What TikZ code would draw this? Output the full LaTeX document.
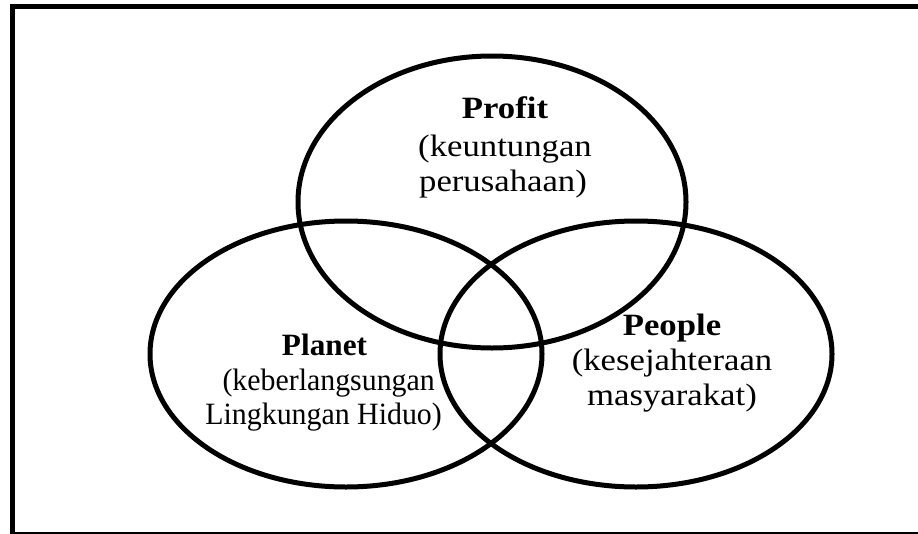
\documentclass[tikz,border=0pt]{standalone}
\usepackage{graphicx}
\usepackage{fontspec}
\usetikzlibrary{shapes.geometric}
\setmainfont{Liberation Serif}[FakeStretch=1.12]
\begin{document}
\begin{tikzpicture}[x=1pt,y=-1pt,
  ring/.style={draw, ellipse, line width=5pt, inner sep=0pt},
  lbl/.style={font=\fontsize{31}{36}\selectfont, anchor=base, inner sep=0pt},
  head/.style={lbl, font=\fontsize{31}{36}\selectfont\bfseries}]
\useasboundingbox (0,0) rectangle (918,533);
% outer frame, running past the right and bottom edges
\begin{scope}
  \clip (0,0) rectangle (918,533);
  \draw[line width=5pt] (12.5,6.5) rectangle (925,534.5);
\end{scope}
% the three circles
\node[ring, minimum width=388pt, minimum height=292pt] (profitring) at (492,202) {};
\node[ring, minimum width=392pt, minimum height=266pt] (planetring) at (346,354) {};
\node[ring, minimum width=392pt, minimum height=266pt] (peoplering) at (636,354) {};
% labels
\node[head] (profit) at (505,118) {Profit};
\node[lbl] (profit1) at (505,156) {(keuntungan};
\node[lbl] (profit2) at (503,191) {perusahaan)};
\node[head] (planet) at (324.5,355) {\scalebox{0.9}[1]{Planet}};
\node[lbl, anchor=base east] (planet1) at (435,390) {\scalebox{0.86}[1]{(keberlangsungan}};
\node[lbl, anchor=base east] (planet2) at (442,424) {\scalebox{0.86}[1]{Lingkungan Hiduo)}};
\node[head] (people) at (672,335) {People};
\node[lbl] (people1) at (672,370) {(kesejahteraan};
\node[lbl] (people2) at (672,405) {masyarakat)};
\end{tikzpicture}
\end{document}
